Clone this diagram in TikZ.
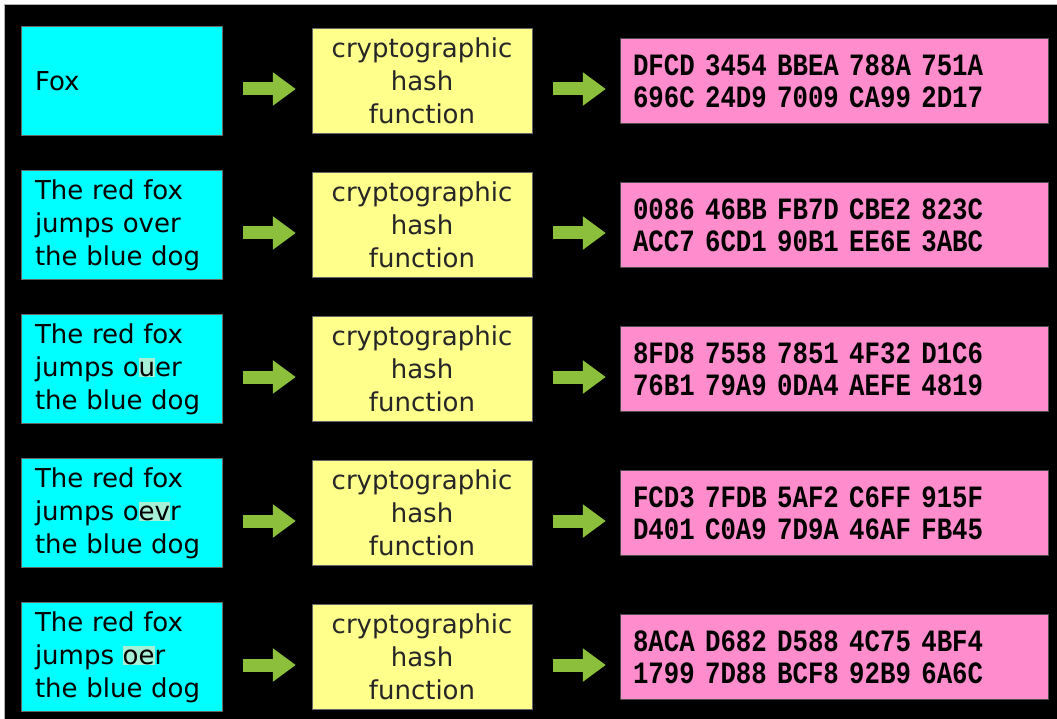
\documentclass[tikz,border=0pt]{standalone}
\usepackage{fontspec}
\setmainfont{DejaVu Sans}
\newfontfamily\hexfont{Liberation Mono}[FakeStretch=0.83]
\usetikzlibrary{arrows.meta}

\definecolor{boxcyan}{RGB}{0,255,255}
\definecolor{boxyellow}{RGB}{255,255,140}
\definecolor{boxpink}{RGB}{255,140,204}
\definecolor{arrowgreen}{RGB}{140,192,60}
\definecolor{hlmint}{RGB}{165,240,215}
\newcommand{\diffhl}[1]{{\setlength{\fboxsep}{0pt}\colorbox{hlmint}{\vrule height 0.7em depth 0.02em width 0pt #1}}}

\begin{document}
\begin{tikzpicture}[x=1pt,y=-1pt,>=Latex,
  inbox/.style={draw=black!60,fill=boxcyan,minimum width=201pt,minimum height=109pt,text width=173pt,align=left,inner xsep=14pt,inner ysep=0pt,font=\fontsize{26}{33}\selectfont},
  hashbox/.style={draw=black!60,fill=boxyellow,minimum width=220pt,minimum height=105pt,text width=200pt,align=center,inner xsep=10pt,inner ysep=0pt,text=black!85,font=\fontsize{26}{33}\selectfont},
  digestbox/.style={draw=black!70,fill=boxpink,minimum width=428pt,minimum height=85pt,text width=402pt,align=left,inner xsep=13pt,inner ysep=0pt,font=\hexfont\bfseries\fontsize{31}{32}\selectfont},
  hasharrow/.style={draw=arrowgreen,line width=13pt,-{Triangle[length=23pt,width=32pt]},shorten <=21pt,shorten >=16pt}]
\useasboundingbox (0,0) rectangle (1057,719);
\fill[white] (0,0) rectangle (1057,719);
\fill[black] (4,4) rectangle (1057,719);
\draw[gray!60,line width=0.8pt] (4,719) -- (4,4) -- (1057,4);

% row 1
\node[inbox] (msg1) at (121.5,81) {Fox};
\node[hashbox] (hf1) at (422,81) {cryptographic\\hash\\function};
\node[digestbox] (dg1) at (834,81) {DFCD 3454 BBEA 788A 751A\\696C 24D9 7009 CA99 2D17};
\draw[hasharrow] ([yshift=-8pt]msg1.east) -- ([yshift=-8pt]hf1.west);
\draw[hasharrow,shorten >=14pt] ([yshift=-8pt]hf1.east) -- ([yshift=-8pt]dg1.west);

% row 2
\node[inbox] (msg2) at (121.5,225) {The red fox\\jumps over\\the blue dog};
\node[hashbox] (hf2) at (422,225) {cryptographic\\hash\\function};
\node[digestbox] (dg2) at (834,225) {0086 46BB FB7D CBE2 823C\\ACC7 6CD1 90B1 EE6E 3ABC};
\draw[hasharrow] ([yshift=-8pt]msg2.east) -- ([yshift=-8pt]hf2.west);
\draw[hasharrow,shorten >=14pt] ([yshift=-8pt]hf2.east) -- ([yshift=-8pt]dg2.west);

% row 3
\node[inbox] (msg3) at (121.5,369) {The red fox\\jumps o\diffhl{u}er\\the blue dog};
\node[hashbox] (hf3) at (422,369) {cryptographic\\hash\\function};
\node[digestbox] (dg3) at (834,369) {8FD8 7558 7851 4F32 D1C6\\76B1 79A9 0DA4 AEFE 4819};
\draw[hasharrow] ([yshift=-8pt]msg3.east) -- ([yshift=-8pt]hf3.west);
\draw[hasharrow,shorten >=14pt] ([yshift=-8pt]hf3.east) -- ([yshift=-8pt]dg3.west);

% row 4
\node[inbox] (msg4) at (121.5,513) {The red fox\\jumps o\diffhl{ev}r\\the blue dog};
\node[hashbox] (hf4) at (422,513) {cryptographic\\hash\\function};
\node[digestbox] (dg4) at (834,513) {FCD3 7FDB 5AF2 C6FF 915F\\D401 C0A9 7D9A 46AF FB45};
\draw[hasharrow] ([yshift=-8pt]msg4.east) -- ([yshift=-8pt]hf4.west);
\draw[hasharrow,shorten >=14pt] ([yshift=-8pt]hf4.east) -- ([yshift=-8pt]dg4.west);

% row 5
\node[inbox] (msg5) at (121.5,657) {The red fox\\jumps \diffhl{oe}r\\the blue dog};
\node[hashbox] (hf5) at (422,657) {cryptographic\\hash\\function};
\node[digestbox] (dg5) at (834,657) {8ACA D682 D588 4C75 4BF4\\1799 7D88 BCF8 92B9 6A6C};
\draw[hasharrow] ([yshift=-8pt]msg5.east) -- ([yshift=-8pt]hf5.west);
\draw[hasharrow,shorten >=14pt] ([yshift=-8pt]hf5.east) -- ([yshift=-8pt]dg5.west);
\end{tikzpicture}
\end{document}
